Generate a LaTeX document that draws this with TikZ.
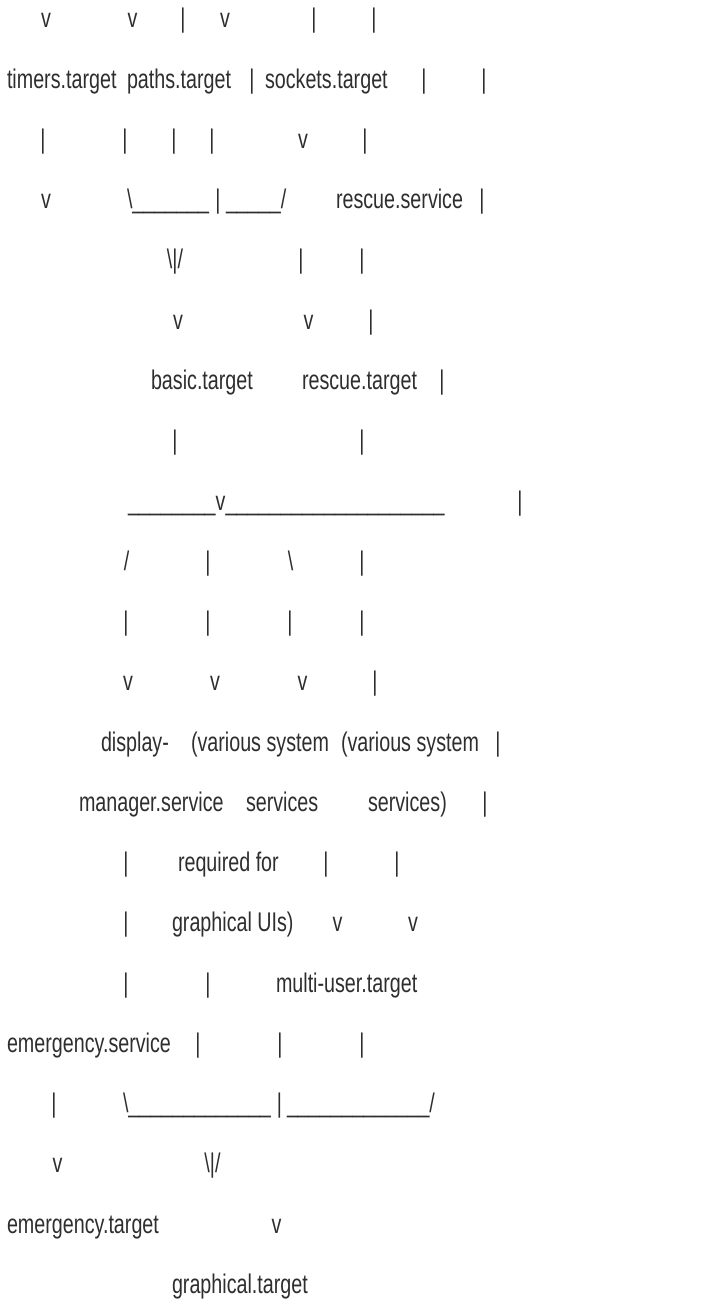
\documentclass[tikz,border=0pt]{standalone}
\usepackage{fontspec}
\newfontfamily\asciifont[FakeStretch=0.73]{Liberation Sans}
\tikzset{txt/.style={anchor=base west, inner sep=0pt, outer sep=0pt, text=black!82, font=\asciifont\fontsize{27}{27}\selectfont}}
\tikzset{glyph/.style={txt, anchor=base}}
\newcommand\fwd{/}
\newcommand\barrun[1]{\foreach\k in {1,...,#1}{\_}}

\begin{document}
\begin{tikzpicture}[x=1pt, y=-60.25pt]
	\useasboundingbox (0,-0.4647) rectangle (705,21.162);
	% single glyphs: row / centre x / glyph
	\foreach \r/\x/\g [count=\i] in {0/46/v, 0/132.5/v, 0/183/|, 0/225/v, 0/314/|, 0/374/|,
			1/252/|, 1/424/|, 1/484/|,
			2/43/|, 2/125/|, 2/174/|, 2/212/|, 2/303/v, 2/365/|,
			3/46/v, 3/218/|, 3/482/|,
			4/175/\textbackslash|\fwd, 4/301/|, 4/362/|,
			5/178/v, 5/308.5/v, 5/371/|,
			6/442/|, 7/175/|, 7/362/|, 8/520/|,
			9/126.5/\fwd, 9/208/|, 9/290.5/\textbackslash, 9/362/|,
			10/126/|, 10/208/|, 10/290/|, 10/362/|,
			11/128/v, 11/215/v, 11/302.5/v, 11/375/|,
			12/498/|, 13/485/|,
			14/126/|, 14/326/|, 14/397/|,
			15/126/|, 15/337.5/v, 15/413/v,
			16/126/|, 16/208/|,
			17/198/|, 17/280/|, 17/362/|,
			18/54/|, 18/279.5/|,
			19/57.5/v, 19/212.5/\textbackslash|\fwd,
			20/276.5/v}
		\node[glyph] (g\i) at (\x,\r) {\g};
	% labels and bar runs: row / left x / text
	\foreach \r/\x/\t [count=\i] in {1/7/timers.target, 1/127/paths.target, 1/265/sockets.target,
			3/127/\textbackslash\barrun{7}, 3/226/\barrun{5}\fwd, 3/336/rescue.service,
			6/151/basic.target, 6/302/rescue.target,
			8/128/\barrun{8}v\barrun{20},
			12/101/display-, 12/191/(various system, 12/341/(various system,
			13/79/manager.service, 13/246/services, 13/368/services),
			14/178/required for,
			15/172/graphical UIs),
			16/276/multi-user.target,
			17/7/emergency.service,
			18/123/\textbackslash\barrun{13}, 18/287/\barrun{13}\fwd,
			20/7/emergency.target,
			21/172/graphical.target}
		\node[txt] (w\i) at (\x,\r) {\t};
\end{tikzpicture}
\end{document}
